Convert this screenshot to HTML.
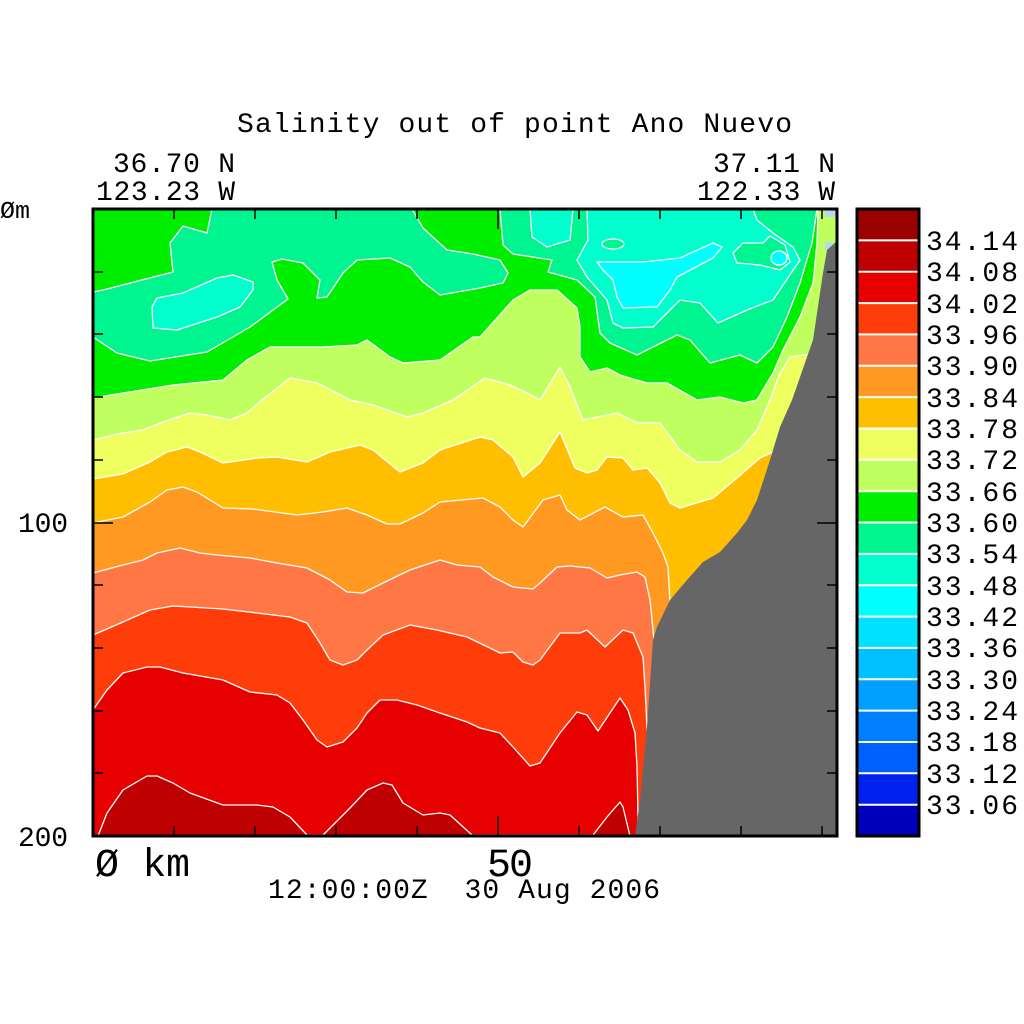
<!DOCTYPE html>
<html><head><meta charset="utf-8"><style>html,body{margin:0;padding:0;background:#fff}svg{display:block}text{font-family:"Liberation Mono",monospace;font-size:28px;fill:#000}</style></head>
<body>
<svg width="1024" height="1024" viewBox="0 0 1024 1024" xmlns="http://www.w3.org/2000/svg">
<rect width="1024" height="1024" fill="#fff"/>
<g stroke="#fff" stroke-width="1.3" stroke-linejoin="round">
<rect x="93" y="209" width="744" height="627" fill="#bf0000" stroke="none"/>
<path fill="#e60000" d="M93,209 L837,209 L837,836 L630,836 L623,807 L620,802 L607,817 L593,835 L472,835 L450,815 L440,813 L423,815 L403,803 L392,785 L383,783 L367,790 L350,808 L323,835 L307,835 L290,817 L273,807 L257,805 L223,805 L190,793 L173,783 L157,776 L147,776 L123,790 L107,813 L98,836 L93,836 Z"/>
<path fill="#ff3d0a" d="M93,209 L837,209 L837,836 L637,836 L638,817 L637,767 L635,733 L628,710 L620,698 L610,713 L598,731 L587,715 L577,712 L560,733 L540,763 L530,766 L513,747 L500,733 L480,728 L467,722 L440,713 L417,705 L397,700 L380,700 L367,713 L357,728 L343,742 L327,747 L317,740 L303,720 L290,703 L277,695 L250,692 L223,680 L183,673 L160,667 L147,667 L123,673 L107,690 L93,710 Z"/>
<path fill="#ff7744" d="M93,209 L837,209 L837,740 L648,740 L647,727 L645,687 L643,657 L633,633 L623,630 L605,647 L587,630 L580,633 L560,633 L540,660 L533,665 L523,662 L513,652 L500,653 L490,648 L467,637 L437,630 L410,625 L383,635 L367,650 L357,660 L343,665 L330,660 L320,643 L307,623 L290,617 L257,613 L223,609 L190,607 L173,606 L150,610 L123,622 L93,635 Z"/>
<path fill="#ff9922" d="M93,209 L837,209 L837,660 L656,660 L655,650 L653,630 L650,600 L645,577 L637,572 L620,575 L607,578 L590,568 L570,566 L557,567 L540,583 L533,589 L513,587 L493,577 L480,567 L457,565 L440,560 L410,570 L383,583 L363,593 L347,592 L330,580 L307,568 L277,563 L250,558 L217,555 L200,553 L180,548 L157,553 L143,560 L123,565 L93,573 Z"/>
<path fill="#ffbf00" d="M93,209 L837,209 L837,610 L670,610 L670,603 L668,567 L663,553 L653,533 L643,515 L623,517 L605,507 L580,520 L567,510 L560,495 L543,500 L523,527 L513,520 L500,507 L483,498 L440,502 L423,513 L400,524 L387,524 L367,515 L347,508 L323,512 L297,515 L253,509 L223,508 L197,492 L183,487 L167,490 L150,502 L123,517 L93,523 Z"/>
<path fill="#f0ff60" d="M93,209 L837,209 L837,452 L773,452 L760,458 L737,478 L713,498 L680,508 L670,503 L660,483 L647,468 L633,470 L623,458 L607,457 L597,470 L587,473 L575,468 L560,432 L540,463 L523,477 L513,457 L493,440 L480,437 L440,450 L423,463 L400,472 L373,450 L360,445 L330,452 L307,462 L277,457 L257,458 L223,463 L200,452 L187,447 L167,452 L150,462 L123,474 L93,479 Z"/>
<path fill="#c0ff60" d="M93,209 L837,209 L837,355 L803,355 L790,357 L780,373 L770,400 L757,430 L740,450 L720,462 L697,462 L680,450 L660,423 L637,423 L617,413 L583,420 L577,405 L570,387 L560,367 L540,400 L525,392 L510,385 L485,378 L453,400 L423,413 L407,417 L373,405 L350,400 L317,383 L290,378 L262,400 L247,413 L230,420 L207,415 L190,413 L163,422 L143,430 L123,433 L93,440 Z"/>
<path fill="#00ee00" d="M93,209 L818,209 L817,243 L813,283 L800,317 L783,350 L773,373 L757,400 L743,403 L720,397 L697,400 L667,383 L647,383 L620,375 L607,368 L590,372 L580,357 L580,327 L577,308 L557,290 L530,290 L513,300 L480,337 L473,337 L440,360 L403,363 L390,357 L367,340 L357,345 L323,347 L270,347 L247,360 L223,380 L173,385 L123,393 L93,398 Z"/>
<path fill="#00f590" d="M212,209 L412,209 L423,228 L447,250 L473,254 L500,260 L508,273 L503,283 L480,288 L440,295 L423,282 L410,267 L390,258 L357,260 L343,273 L327,297 L317,298 L320,280 L303,263 L282,259 L272,262 L277,280 L288,299 L250,327 L207,352 L150,361 L117,353 L93,337 L93,292 L103,290 L173,272 L170,243 L183,226 L207,233 Z"/>
<path fill="#00f590" d="M500,209 L503,245 L513,254 L552,260 L548,272 L577,280 L595,297 L600,333 L610,343 L637,355 L677,335 L690,340 L710,363 L740,355 L757,363 L773,347 L787,317 L800,283 L812,243 L817,209 Z"/>
<path fill="#00ffcc" d="M530,209 L532,237 L547,247 L570,240 L573,209 Z"/>
<path fill="#00ffcc" d="M587,209 L588,240 L577,260 L587,277 L607,300 L613,323 L623,328 L653,327 L680,300 L700,303 L718,323 L747,310 L773,300 L800,260 L793,247 L773,233 L757,220 L753,209 Z"/>
<ellipse cx="613" cy="244" rx="11" ry="5" fill="#00f590"/>
<path fill="#00f590" d="M737,263 L733,253 L743,243 L763,243 L770,236 L785,245 L790,262 L780,270 L760,265 Z"/>
<ellipse cx="779" cy="258" rx="8" ry="7" fill="#00ffff"/>
<path fill="#00ffcc" d="M153,328 L152,307 L157,298 L183,293 L217,278 L233,275 L253,282 L253,290 L240,307 L217,317 L177,330 Z"/>
<path fill="#00ffff" d="M597,262 L643,262 L680,258 L713,243 L722,247 L713,258 L677,277 L670,290 L657,307 L623,308 L617,297 L613,280 L603,270 Z"/>
</g>
<rect x="825" y="210" width="12" height="7" fill="#b8d8f0"/>
<rect x="825" y="242" width="8" height="8" fill="#b8d8f0"/>
<path fill="#666666" d="M838,240 L827,250 L823,273 L813,340 L792,400 L780,427 L770,460 L757,500 L747,520 L737,533 L720,552 L703,562 L687,580 L670,600 L657,627 L653,640 L647,727 L640,800 L635,836 L837,836 Z"/>
<g stroke="#000" stroke-width="1.5">
<path d="M174,209v10M255,209v10M336,209v10M417,209v10M498,209v20M579,209v10M660,209v10M741,209v10M822,209v10"/>
<path d="M174,836v-10M255,836v-10M336,836v-10M417,836v-10M498,836v-20M579,836v-10M660,836v-10M741,836v-10M822,836v-10"/>
<path d="M93,272h10M93,334h10M93,397h10M93,460h10M93,523h20M93,585h10M93,648h10M93,711h10M93,773h10"/>
<path d="M837,272h-10M837,334h-10M837,397h-10M837,460h-10M837,523h-20M837,585h-10M837,648h-10M837,711h-10M837,773h-10"/>
</g>
<rect x="93" y="209" width="744" height="627" fill="none" stroke="#000" stroke-width="3"/>
<g>
<rect x="857" y="209" width="62" height="32" fill="#990000"/>
<rect x="857" y="240" width="62" height="32" fill="#bf0000"/>
<rect x="857" y="272" width="62" height="32" fill="#e60000"/>
<rect x="857" y="303" width="62" height="32" fill="#ff3d0a"/>
<rect x="857" y="334" width="62" height="32" fill="#ff7744"/>
<rect x="857" y="366" width="62" height="32" fill="#ff9922"/>
<rect x="857" y="397" width="62" height="32" fill="#ffbf00"/>
<rect x="857" y="428" width="62" height="32" fill="#f0ff60"/>
<rect x="857" y="460" width="62" height="32" fill="#c0ff60"/>
<rect x="857" y="491" width="62" height="32" fill="#00ee00"/>
<rect x="857" y="522" width="62" height="32" fill="#00f590"/>
<rect x="857" y="554" width="62" height="32" fill="#00ffcc"/>
<rect x="857" y="585" width="62" height="32" fill="#00ffff"/>
<rect x="857" y="616" width="62" height="32" fill="#00e0ff"/>
<rect x="857" y="648" width="62" height="32" fill="#00c0ff"/>
<rect x="857" y="679" width="62" height="32" fill="#00a0ff"/>
<rect x="857" y="710" width="62" height="32" fill="#0080ff"/>
<rect x="857" y="742" width="62" height="32" fill="#0060ff"/>
<rect x="857" y="773" width="62" height="32" fill="#0020ee"/>
<rect x="857" y="804" width="62" height="32" fill="#0000bb"/>
</g>
<g stroke="#fff" stroke-width="2">
<path d="M857,240.4h62M857,271.7h62M857,303.1h62M857,334.4h62M857,365.8h62M857,397.1h62M857,428.5h62M857,459.8h62M857,491.2h62M857,522.5h62M857,553.9h62M857,585.2h62M857,616.6h62M857,647.9h62M857,679.3h62M857,710.6h62M857,742h62M857,773.3h62M857,804.7h62"/>
</g>
<rect x="857" y="209" width="62" height="627" fill="none" stroke="#000" stroke-width="3"/>
<text x="237" y="132" textLength="555" lengthAdjust="spacing">Salinity out of point Ano Nuevo</text>
<text x="113" y="172" textLength="122" lengthAdjust="spacing">36.70 N</text>
<text x="96" y="200" textLength="139" lengthAdjust="spacing">123.23 W</text>
<text x="713" y="172" textLength="122" lengthAdjust="spacing">37.11 N</text>
<text x="697" y="200" textLength="138" lengthAdjust="spacing">122.33 W</text>
<text x="0" y="218" style="font-size:24px" textLength="30" lengthAdjust="spacingAndGlyphs">Øm</text>
<text x="18" y="532" textLength="50" lengthAdjust="spacing">100</text>
<text x="18" y="846" textLength="50" lengthAdjust="spacing">200</text>
<text x="95" y="876" style="font-size:40px" textLength="95" lengthAdjust="spacing">Ø km</text>
<text x="487" y="876" style="font-size:40px" textLength="46" lengthAdjust="spacing">50</text>
<text x="268" y="898" xml:space="preserve" textLength="392" lengthAdjust="spacing">12:00:00Z  30 Aug 2006</text>
<g>
<text x="926" y="250" textLength="92" lengthAdjust="spacing">34.14</text>
<text x="926" y="281" textLength="92" lengthAdjust="spacing">34.08</text>
<text x="926" y="313" textLength="92" lengthAdjust="spacing">34.02</text>
<text x="926" y="344" textLength="92" lengthAdjust="spacing">33.96</text>
<text x="926" y="375" textLength="92" lengthAdjust="spacing">33.90</text>
<text x="926" y="407" textLength="92" lengthAdjust="spacing">33.84</text>
<text x="926" y="438" textLength="92" lengthAdjust="spacing">33.78</text>
<text x="926" y="469" textLength="92" lengthAdjust="spacing">33.72</text>
<text x="926" y="501" textLength="92" lengthAdjust="spacing">33.66</text>
<text x="926" y="532" textLength="92" lengthAdjust="spacing">33.60</text>
<text x="926" y="563" textLength="92" lengthAdjust="spacing">33.54</text>
<text x="926" y="595" textLength="92" lengthAdjust="spacing">33.48</text>
<text x="926" y="626" textLength="92" lengthAdjust="spacing">33.42</text>
<text x="926" y="657" textLength="92" lengthAdjust="spacing">33.36</text>
<text x="926" y="689" textLength="92" lengthAdjust="spacing">33.30</text>
<text x="926" y="720" textLength="92" lengthAdjust="spacing">33.24</text>
<text x="926" y="751" textLength="92" lengthAdjust="spacing">33.18</text>
<text x="926" y="783" textLength="92" lengthAdjust="spacing">33.12</text>
<text x="926" y="814" textLength="92" lengthAdjust="spacing">33.06</text>
</g>
</svg>
</body></html>
